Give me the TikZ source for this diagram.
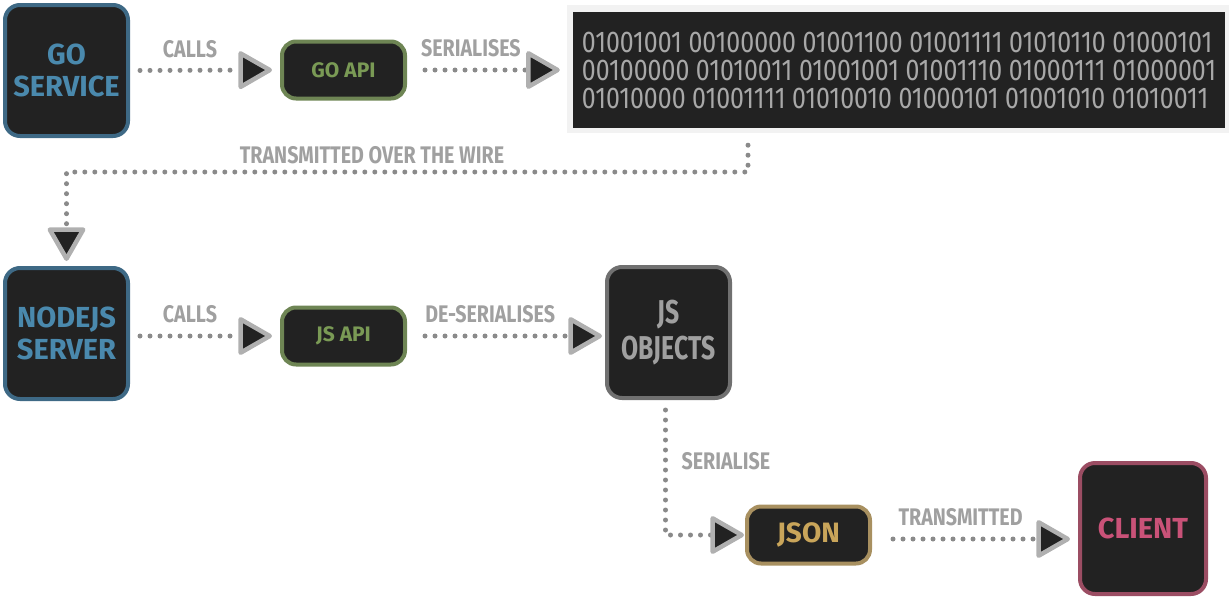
\documentclass[tikz,border=0pt]{standalone}
\usepackage{fontspec}
\newfontfamily\boxfont{Fira Sans}
\newfontfamily\narrowfont[FakeStretch=0.75]{Fira Sans}
\newfontfamily\bitfont[FakeStretch=0.83]{Fira Sans}
\newfontfamily\labelfont[FakeStretch=0.82]{Fira Sans}
\usetikzlibrary{arrows.meta}
\definecolor{boxfill}{HTML}{222222}
\definecolor{goblue}{HTML}{3E6985}
\definecolor{gotext}{HTML}{4A89AD}
\definecolor{apigreen}{HTML}{6E8554}
\definecolor{apitext}{HTML}{7A9A55}
\definecolor{objgray}{HTML}{707070}
\definecolor{objtext}{HTML}{A0A0A0}
\definecolor{jsontan}{HTML}{A89060}
\definecolor{jsontext}{HTML}{C9A55A}
\definecolor{clientred}{HTML}{9B4D63}
\definecolor{clienttext}{HTML}{C95278}
\definecolor{dotgray}{HTML}{8A8A8A}
\definecolor{tipedge}{HTML}{B0B0B0}
\definecolor{wirebg}{HTML}{F2F2F2}
\definecolor{bittext}{HTML}{A8A8A8}
\tikzset{
  svcbox/.style={draw, fill=boxfill, line width=4pt, rounded corners=15pt,
    minimum width=123pt, minimum height=131pt, align=center,
    font=\boxfont\bfseries\fontsize{29}{32}\selectfont},
  apibox/.style={draw, fill=boxfill, line width=4pt, rounded corners=14pt,
    minimum width=123pt, minimum height=57pt, align=center,
    font=\boxfont\bfseries\fontsize{21}{25}\selectfont},
  link/.style={draw=dotgray, line width=5pt, line cap=round,
    dash pattern=on 0pt off 10pt,
    -{Triangle[length=36pt,width=40pt,fill=boxfill,color=tipedge,line width=4.5pt,round]}},
  linklabel/.style={font=\labelfont\bfseries\fontsize{24}{26}\selectfont, text=objtext},
}
\begin{document}
\begin{tikzpicture}[x=1pt,y=-1pt]
\useasboundingbox (0,0) rectangle (1231,600);
% top row
\node[svcbox, draw=goblue, text=gotext] (goservice) at (66.5,70.5) {GO\\SERVICE};
\node[apibox, draw=apigreen, text=apitext] (goapi) at (343.5,70) {GO API};
\node[fill=wirebg, minimum width=662pt, minimum height=128pt] (wirebox) at (898,69) {};
\node[fill=boxfill, minimum width=652pt, minimum height=116pt, text=bittext, align=left,
  font=\bitfont\fontsize{30}{28}\selectfont] (binary) at (899,70)
  {01001001 00100000 01001100 01001111 01010110 01000101\\
   00100000 01010011 01001001 01001110 01000111 01000001\\
   01010000 01001111 01010010 01000101 01001010 01010011};
% middle row
\node[svcbox, draw=goblue, text=gotext] (nodejs) at (66.5,333.5) {NODEJS\\SERVER};
\node[apibox, draw=apigreen, text=apitext] (jsapi) at (343.5,336) {JS API};
\node[svcbox, draw=objgray, text=objtext, font=\narrowfont\bfseries\fontsize{33}{36}\selectfont]
  (jsobjects) at (668.5,332.5) {JS\\OBJECTS};
% bottom row
\node[apibox, draw=jsontan, text=jsontext, font=\boxfont\bfseries\fontsize{28}{30}\selectfont]
  (json) at (808.5,535) {JSON};
\node[svcbox, draw=clientred, text=clienttext, minimum width=126pt] (client) at (1143,528.5) {CLIENT};
\coordinate (wire) at (400,172);
% connectors
\draw[link, shorten <=10pt, shorten >=8pt] (goservice.east) --
  node[linklabel, pos=0.4, above=7pt] {CALLS} (goapi.west);
\draw[link, shorten <=18pt, shorten >=7pt] (goapi.east) --
  node[linklabel, pos=0.4, above=7pt] {SERIALISES} (wirebox.west |- goapi);
\draw[link, shorten <=12pt, shorten >=5pt] (wirebox.south -| 748,0) |- (wire) -| (nodejs.north);
\node[linklabel] (wirelabel) at (372,155) {TRANSMITTED OVER THE WIRE};
\draw[link, shorten <=10pt, shorten >=8pt] (nodejs.east |- jsapi) --
  node[linklabel, pos=0.4, above=7pt] {CALLS} (jsapi.west);
\draw[link, shorten <=18pt, shorten >=3pt] (jsapi.east) --
  node[linklabel, pos=0.42, above=7pt] {DE-SERIALISES} (jsobjects.west |- jsapi);
\draw[link, shorten <=10pt, shorten >=1pt] ([xshift=-3pt]jsobjects.south) |- (json.west);
\node[linklabel, anchor=west] (serlabel) at (678,461) {SERIALISE};
\draw[link, shorten <=21pt, shorten >=8pt] (json.east |- 0,539) --
  node[linklabel, pos=0.43, above=7pt] {TRANSMITTED} (client.west |- 0,539);
\end{tikzpicture}
\end{document}
